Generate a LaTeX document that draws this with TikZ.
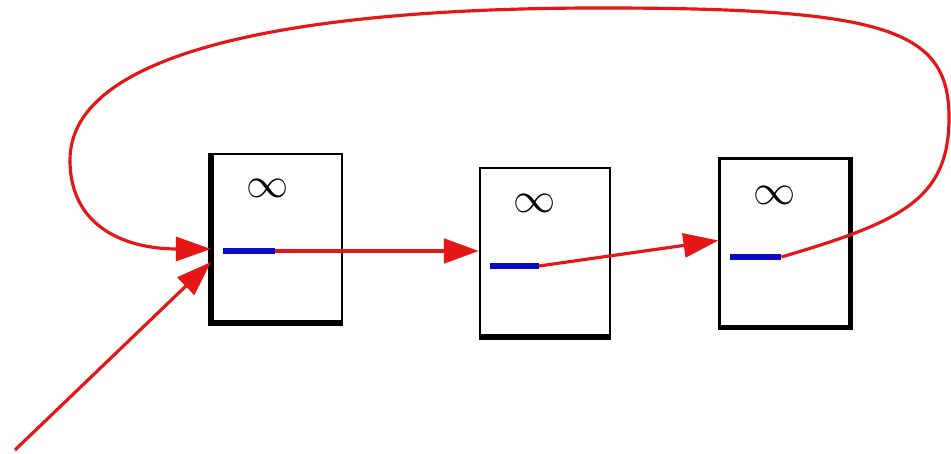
\documentclass[tikz,border=0pt]{standalone}
\usepackage{amsmath,amssymb}
\usepackage{tikz}
\usetikzlibrary{positioning}
\usetikzlibrary{calc}
\usetikzlibrary{arrows.meta}
\definecolor{ptrred}{RGB}{228,22,22}
\definecolor{ptrblue}{RGB}{10,10,200}

\begin{document}
\begin{tikzpicture}[line width=0.6pt,
    cell/.style={draw, minimum width=1.3cm, minimum height=1.68cm, inner sep=0pt},
    inf/.style={font=\large},
    field/.style={ptrblue, line width=1.5pt},
    link/.style={ptrred, line width=0.9pt, -{Triangle[length=3.5mm,width=2.4mm]}},
    shade/.style={line width=1.6pt}]
    \useasboundingbox (0,0) rectangle (9.51,4.54);

    % the three cells
    \node[cell] (b1) at (2.77,2.16) {};
    \node[cell] (b2) at (5.45,2.02) {};
    \node[cell] (b3) at (7.845,2.115) {};

    \draw[shade] (b1.north west) -- (b1.south west) -- (b1.south east);
    \draw[shade] (b2.south west) -- (b2.south east);
    \draw[shade] (b3.south west) -- (b3.south east) -- (b3.north east);

    \node[inf] (i1) at ($(b1.center)+(-0.09,0.50)$) {$\infty$};
    \node[inf] (i2) at ($(b2.center)+(-0.10,0.49)$) {$\infty$};
    \node[inf] (i3) at ($(b3.center)+(-0.095,0.475)$) {$\infty$};

    % next fields
    \coordinate (p1s) at ($(b1.west)+(0.12,-0.13)$);
    \coordinate (p1e) at ($(b1.west)+(0.64,-0.13)$);
    \coordinate (p2s) at ($(b2.west)+(0.11,-0.14)$);
    \coordinate (p2e) at ($(b2.west)+(0.60,-0.14)$);
    \coordinate (p3s) at ($(b3.west)+(0.12,-0.145)$);
    \coordinate (p3e) at ($(b3.west)+(0.63,-0.145)$);

    \draw[field] (p1s) -- (p1e);
    \draw[field] (p2s) -- (p2e);
    \draw[field] (p3s) -- (p3e);

    % links
    \coordinate (entry) at (0.15,0.04);
    \coordinate (t1) at ($(b1.west)+(0,-0.11)$);
    \coordinate (t2) at ($(b1.west)+(0,-0.24)$);

    \draw[link, line width=1.4pt] (p1e) -- (p1e -| b2.west);
    \draw[link] (p2e) -- ($(b3.west)+(0,0.02)$);
    \draw[link] (entry) -- (t2);
    \draw[link] (p3e) .. controls (9.00,2.32) and (9.48,2.54) .. (9.49,3.34)
        .. controls (9.50,4.24) and (8.90,4.46) .. (6.00,4.46)
        .. controls (3.00,4.46) and (0.70,4.04) .. (0.70,2.94)
        .. controls (0.70,2.24) and (1.30,2.05) .. (t1);
\end{tikzpicture}
\end{document}
